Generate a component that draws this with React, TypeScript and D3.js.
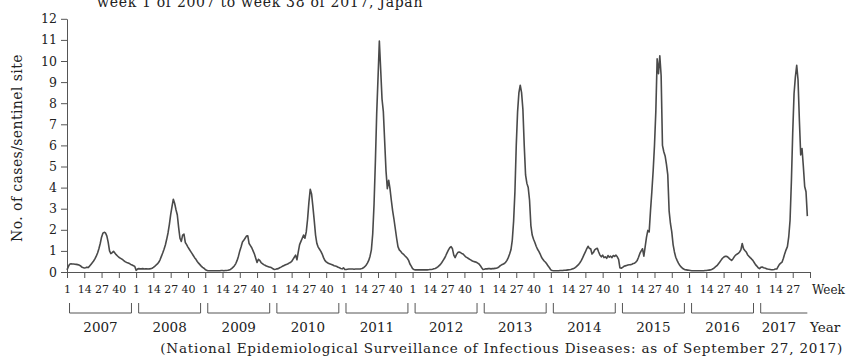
import React, { useEffect, useRef } from 'react';
import * as d3 from 'd3';

// weekly cases per sentinel site (52 weeks a year, 2017 to week 38)
const years = [2007, 2008, 2009, 2010, 2011, 2012, 2013, 2014, 2015, 2016, 2017];
const weekTicks = [1, 14, 27, 40];
const yTicks = [0, 1, 2, 3, 4, 5, 6, 7, 8, 9, 10, 11, 12];

const cases2007 = [0.1, 0.25, 0.37, 0.39, 0.38, 0.38, 0.37, 0.36, 0.35, 0.33, 0.3, 0.24, 0.21, 0.19, 0.2, 0.23, 0.21, 0.28, 0.36, 0.44, 0.52, 0.62, 0.75, 0.9, 1.1, 1.35, 1.65, 1.84, 1.88, 1.85, 1.7, 1.4, 1.0, 0.87, 0.92, 0.98, 0.9, 0.82, 0.76, 0.7, 0.66, 0.62, 0.58, 0.52, 0.48, 0.45, 0.43, 0.4, 0.36, 0.33, 0.3, 0.26];
const cases2008 = [0.08, 0.14, 0.16, 0.15, 0.15, 0.16, 0.14, 0.15, 0.15, 0.14, 0.15, 0.16, 0.18, 0.22, 0.27, 0.33, 0.38, 0.46, 0.58, 0.74, 0.9, 1.08, 1.28, 1.55, 1.85, 2.25, 2.72, 3.1, 3.45, 3.25, 2.95, 2.7, 2.1, 1.6, 1.45, 1.75, 1.8, 1.4, 1.3, 1.18, 1.08, 0.98, 0.88, 0.78, 0.68, 0.6, 0.5, 0.42, 0.35, 0.28, 0.22, 0.18];
const cases2009 = [0.12, 0.08, 0.06, 0.06, 0.06, 0.06, 0.06, 0.06, 0.06, 0.06, 0.06, 0.06, 0.07, 0.07, 0.06, 0.07, 0.07, 0.08, 0.1, 0.12, 0.17, 0.23, 0.3, 0.4, 0.55, 0.75, 1.0, 1.2, 1.42, 1.5, 1.6, 1.7, 1.72, 1.35, 1.25, 1.15, 1.0, 0.85, 0.65, 0.45, 0.6, 0.55, 0.45, 0.4, 0.35, 0.32, 0.28, 0.26, 0.24, 0.22, 0.2, 0.15];
const cases2010 = [0.12, 0.13, 0.15, 0.16, 0.2, 0.23, 0.27, 0.3, 0.33, 0.36, 0.38, 0.42, 0.45, 0.5, 0.6, 0.7, 0.8, 0.58, 0.95, 1.3, 1.45, 1.6, 1.75, 1.6, 1.9, 2.5, 3.3, 3.92, 3.7, 3.1, 2.45, 1.75, 1.35, 1.18, 1.08, 0.98, 0.85, 0.68, 0.55, 0.48, 0.44, 0.4, 0.38, 0.36, 0.33, 0.3, 0.28, 0.26, 0.22, 0.2, 0.17, 0.15];
const cases2011 = [0.2, 0.12, 0.12, 0.13, 0.14, 0.14, 0.14, 0.14, 0.13, 0.14, 0.14, 0.14, 0.14, 0.15, 0.17, 0.2, 0.25, 0.32, 0.42, 0.55, 0.75, 1.05, 1.8, 3.2, 5.2, 7.5, 9.2, 10.95, 9.6, 8.2, 7.6, 6.2, 4.8, 3.95, 4.35, 3.95, 3.4, 2.9, 2.5, 2.05, 1.6, 1.2, 1.05, 0.98, 0.9, 0.85, 0.78, 0.72, 0.65, 0.55, 0.38, 0.28];
const cases2012 = [0.16, 0.12, 0.1, 0.1, 0.1, 0.11, 0.1, 0.1, 0.11, 0.1, 0.1, 0.1, 0.11, 0.12, 0.12, 0.13, 0.15, 0.17, 0.2, 0.24, 0.3, 0.36, 0.45, 0.55, 0.65, 0.78, 0.92, 1.05, 1.15, 1.2, 1.1, 0.8, 0.68, 0.82, 0.92, 0.95, 0.92, 0.88, 0.85, 0.78, 0.72, 0.68, 0.64, 0.6, 0.56, 0.52, 0.5, 0.48, 0.46, 0.42, 0.38, 0.3];
const cases2013 = [0.2, 0.12, 0.13, 0.15, 0.15, 0.16, 0.16, 0.15, 0.16, 0.16, 0.17, 0.18, 0.2, 0.24, 0.3, 0.34, 0.37, 0.4, 0.46, 0.55, 0.68, 0.85, 1.05, 1.5, 2.4, 3.8, 6.0, 7.6, 8.5, 8.85, 8.5, 7.7, 6.0, 4.6, 4.2, 4.0, 3.4, 2.2, 1.75, 1.55, 1.4, 1.22, 1.08, 0.98, 0.85, 0.7, 0.6, 0.52, 0.46, 0.38, 0.28, 0.2];
const cases2014 = [0.1, 0.07, 0.06, 0.06, 0.06, 0.06, 0.06, 0.07, 0.07, 0.07, 0.08, 0.08, 0.09, 0.1, 0.11, 0.12, 0.14, 0.16, 0.19, 0.24, 0.3, 0.36, 0.45, 0.55, 0.68, 0.82, 0.95, 1.1, 1.22, 1.12, 1.1, 0.85, 0.92, 1.05, 1.1, 1.12, 0.95, 0.8, 0.72, 0.8, 0.68, 0.72, 0.65, 0.78, 0.7, 0.75, 0.68, 0.78, 0.74, 0.8, 0.72, 0.6];
const cases2015 = [0.2, 0.18, 0.22, 0.27, 0.29, 0.31, 0.33, 0.34, 0.35, 0.37, 0.4, 0.42, 0.47, 0.55, 0.7, 0.88, 1.0, 1.1, 0.75, 1.2, 1.65, 1.97, 1.9, 2.9, 3.8, 4.8, 6.0, 7.6, 10.1, 9.4, 10.25, 9.3, 6.0, 5.7, 5.5, 5.1, 4.6, 2.9, 2.3, 1.9, 1.3, 0.95, 0.7, 0.55, 0.42, 0.32, 0.24, 0.18, 0.14, 0.11, 0.1, 0.09];
const cases2016 = [0.08, 0.07, 0.06, 0.06, 0.06, 0.06, 0.06, 0.06, 0.06, 0.06, 0.06, 0.06, 0.07, 0.07, 0.08, 0.09, 0.1, 0.12, 0.15, 0.2, 0.25, 0.3, 0.38, 0.46, 0.55, 0.64, 0.7, 0.74, 0.74, 0.72, 0.66, 0.6, 0.55, 0.62, 0.72, 0.8, 0.84, 0.88, 0.95, 1.05, 1.35, 1.1, 1.02, 0.95, 0.82, 0.75, 0.68, 0.62, 0.55, 0.45, 0.35, 0.28];
const cases2017 = [0.2, 0.16, 0.22, 0.24, 0.2, 0.19, 0.16, 0.14, 0.13, 0.12, 0.11, 0.11, 0.12, 0.14, 0.14, 0.25, 0.36, 0.42, 0.47, 0.65, 0.87, 1.05, 1.2, 1.66, 2.45, 4.3, 6.6, 8.45, 9.25, 9.8, 9.1, 7.2, 5.55, 5.85, 5.0, 4.05, 3.8, 2.65];

const casesByYear = [cases2007, cases2008, cases2009, cases2010, cases2011, cases2012, cases2013, cases2014, cases2015, cases2016, cases2017];

const App = () => {
  const chartRef = useRef<SVGSVGElement>(null);

  useEffect(() => {
    const width = 847;
    const height = 358;
    const weeksPerYear = 52;
    const axisY = 272;
    const font = "'DejaVu Serif', serif";
    const ink = '#222';

    const svg = d3.select(chartRef.current);
    svg.selectAll('*').remove();
    svg.attr('width', width).attr('height', height);

    // one index per week; last tick is week 40 of 2017
    const x = d3.scaleLinear()
      .domain([0, (years.length - 1) * weeksPerYear + 39])
      .range([67, 810]);
    const y = d3.scaleLinear().domain([0, 12]).range([axisY, 18.8]);

    const points = casesByYear.flatMap((arr, yi) =>
      arr.map((v, wi) => ({ i: yi * weeksPerYear + wi, v }))
    );

    // y axis
    const yAxis = svg.append('g')
      .attr('transform', `translate(${x(0)},0)`)
      .call(d3.axisLeft(y).tickValues(yTicks).tickSize(6).tickSizeOuter(0).tickPadding(4));
    yAxis.selectAll('text').attr('font-family', font).attr('font-size', 12.5).attr('fill', ink);

    // x axis, ticks at weeks 1, 14, 27, 40 of every year
    const tickIdx = years.flatMap((yr, yi) => weekTicks.map(w => yi * weeksPerYear + w - 1));
    const xAxis = svg.append('g')
      .attr('transform', `translate(0,${axisY})`)
      .call(d3.axisBottom(x)
        .tickValues(tickIdx)
        .tickSize(6)
        .tickSizeOuter(0)
        .tickPadding(7)
        .tickFormat((d, k) => (k === tickIdx.length - 1 ? '' : String(weekTicks[k % 4]))));
    xAxis.selectAll('text').attr('font-family', font).attr('font-size', 11).attr('fill', ink);

    svg.selectAll('.domain, .tick line').attr('stroke', '#555');

    // the series
    const line = d3.line<{ i: number; v: number }>()
      .x(d => x(d.i))
      .y(d => y(d.v));
    svg.append('path')
      .datum(points)
      .attr('fill', 'none')
      .attr('stroke', '#4a4a4a')
      .attr('stroke-width', 1.6)
      .attr('stroke-linejoin', 'round')
      .attr('d', line);

    // year brackets
    const bracketTop = 303;
    const bracketBottom = 313;
    years.forEach((yr, yi) => {
      const start = yi * weeksPerYear;
      const left = x(start + 1.9);
      const last = yi === years.length - 1;
      const right = last ? x(start + casesByYear[yi].length - 1) : x(start + 48.5);
      const g = svg.append('g').attr('fill', 'none').attr('stroke', '#555').attr('stroke-width', 1);
      g.append('path').attr('d', last
        ? `M${left},${bracketTop}V${bracketBottom}H${right}`
        : `M${left},${bracketTop}V${bracketBottom}H${right}V${bracketTop}`);
      svg.append('text')
        .attr('x', last ? left + 1 : (left + right) / 2)
        .attr('y', 332)
        .attr('text-anchor', last ? 'start' : 'middle')
        .attr('font-family', font)
        .attr('font-size', 13.5)
        .attr('fill', ink)
        .text(yr);
    });

    svg.append('text')
      .attr('x', 812).attr('y', 294)
      .attr('font-family', font).attr('font-size', 12).attr('fill', ink)
      .text('Week');
    svg.append('text')
      .attr('x', 810).attr('y', 332)
      .attr('font-family', font).attr('font-size', 13.5).attr('fill', ink)
      .text('Year');

    // y label
    svg.append('text')
      .attr('transform', `translate(22,148) rotate(-90)`)
      .attr('text-anchor', 'middle')
      .attr('font-family', font).attr('font-size', 14).attr('letter-spacing', 0.4).attr('fill', ink)
      .text('No. of cases/sentinel site');

    // title (cut off at the top, as in the source figure)
    svg.append('text')
      .attr('x', 97).attr('y', 7)
      .attr('font-family', font).attr('font-size', 14).attr('letter-spacing', 0.7).attr('fill', ink)
      .text('week 1 of 2007 to week 38 of 2017, Japan');

    // source
    svg.append('text')
      .attr('x', 843).attr('y', 353)
      .attr('text-anchor', 'end')
      .attr('font-family', font).attr('font-size', 13.5).attr('letter-spacing', 0.8).attr('fill', ink)
      .text('(National Epidemiological Surveillance of Infectious Diseases: as of September 27, 2017)');
  }, []);

  return (
    <div style={{ position: 'absolute', left: 0, top: 0 }}>
      <svg ref={chartRef}></svg>
    </div>
  );
};

export default App;
